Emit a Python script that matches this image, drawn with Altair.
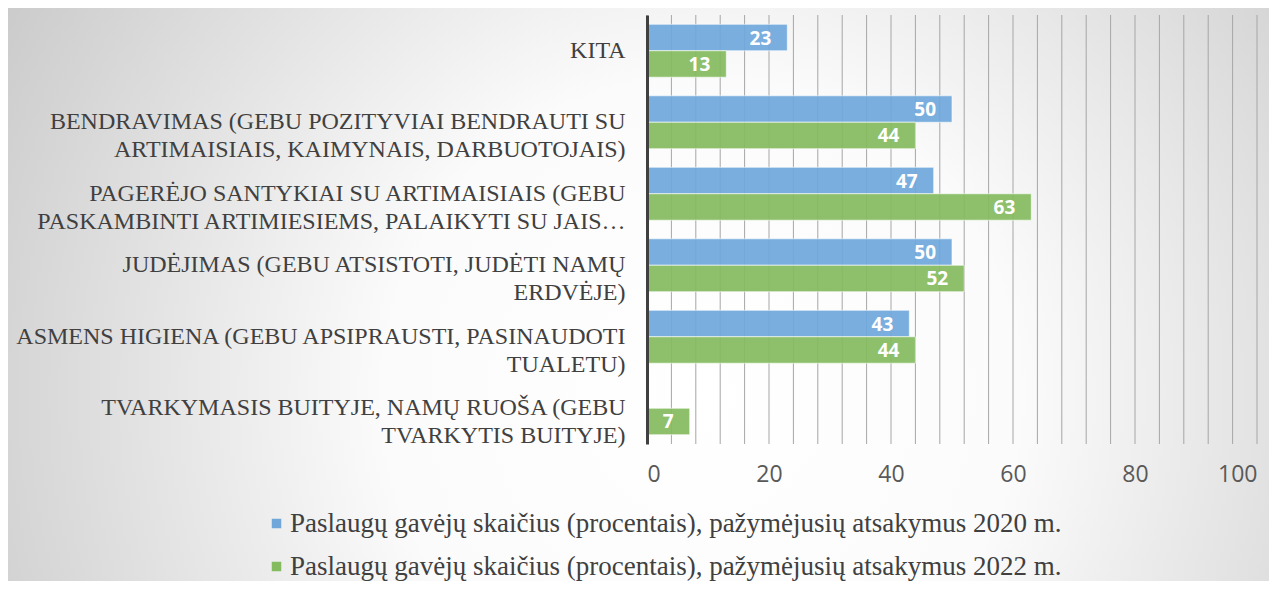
import altair as alt
import pandas as pd

categories = [
    "KITA",
    "BENDRAVIMAS (GEBU POZITYVIAI BENDRAUTI SU|ARTIMAISIAIS, KAIMYNAIS, DARBUOTOJAIS)",
    "PAGERĖJO SANTYKIAI SU ARTIMAISIAIS (GEBU|PASKAMBINTI ARTIMIESIEMS, PALAIKYTI SU JAIS…",
    "JUDĖJIMAS (GEBU ATSISTOTI, JUDĖTI NAMŲ|ERDVĖJE)",
    "ASMENS HIGIENA (GEBU APSIPRAUSTI, PASINAUDOTI|TUALETU)",
    "TVARKYMASIS BUITYJE, NAMŲ RUOŠA (GEBU|TVARKYTIS BUITYJE)",
]
series = [
    "Paslaugų gavėjų skaičius (procentais), pažymėjusių atsakymus 2020 m.",
    "Paslaugų gavėjų skaičius (procentais), pažymėjusių atsakymus 2022 m.",
]
values_2020 = [23, 50, 47, 50, 43, 0]
values_2022 = [13, 44, 63, 52, 44, 7]
grid_values = list(range(0, 101, 4))
tick_labels = [0, 20, 40, 60, 80, 100]
colors = ["#6fa7db", "#84bb5f"]

SERIF = "Liberation Serif, Times New Roman, Times, serif"

rows = []
for c, a, b in zip(categories, values_2020, values_2022):
    rows.append({"cat": c, "series": series[0], "value": a})
    rows.append({"cat": c, "series": series[1], "value": b})
df = pd.DataFrame(rows)
grid_df = pd.DataFrame({"g": grid_values})

W, H = 610, 429
PL, PT, PR, PB = 639, 7, 12, 137

xscale = alt.Scale(domain=[0, 100], nice=False)
yscale = alt.Scale(domain=categories, paddingInner=0.26, paddingOuter=0.13)

xaxis = alt.Axis(title=None, values=tick_labels, labelOverlap=False,
                 labelFont="Open Sans", labelFontSize=23,
                 labelColor="#595959", labelPadding=19,
                 ticks=False, domain=False, grid=False, zindex=1)

bg = alt.Chart(pd.DataFrame({"a": [0]})).mark_rect(
    color=alt.RadialGradient(
        gradient="radial",
        x1=0.55, y1=0.58, r1=0.0,
        x2=0.55, y2=0.58, r2=0.72,
        stops=[
            alt.GradientStop(offset=0.0, color="#ffffff"),
            alt.GradientStop(offset=0.35, color="#fbfbfb"),
            alt.GradientStop(offset=1.0, color="#c0c0c0"),
        ],
    )
).encode(
    x=alt.value(-PL), x2=alt.value(W + PR),
    y=alt.value(-PT), y2=alt.value(H + PB),
)

grid = alt.Chart(grid_df).mark_rule(color="#a6a6a6", strokeWidth=1).encode(
    x=alt.X("g:Q", scale=xscale, axis=xaxis),
    y=alt.value(0), y2=alt.value(H),
)

base = alt.Chart(df).encode(
    y=alt.Y("cat:N", sort=categories, scale=yscale,
            axis=alt.Axis(title=None, labelExpr="split(datum.value, '|')",
                          labelFont=SERIF, labelFontSize=24,
                          labelColor="#404040", labelLineHeight=28,
                          labelPadding=22, labelLimit=0, ticks=False,
                          domain=True, domainColor="#404040", domainWidth=3,
                          grid=False, zindex=1)),
    yOffset=alt.YOffset("series:N", sort=series),
)

bars = base.mark_bar(fillOpacity=0.92, stroke="#ffffff", strokeWidth=1,
                     strokeOpacity=0.6).encode(
    x=alt.X("value:Q", scale=xscale, axis=xaxis),
    color=alt.Color("series:N", sort=series,
                    scale=alt.Scale(domain=series, range=colors),
                    legend=alt.Legend(title=None, orient="none",
                                      legendX=-384, legendY=495,
                                      direction="vertical",
                                      symbolType="square", symbolSize=90,
                                      symbolStrokeWidth=0, symbolOpacity=1,
                                      labelFont=SERIF,
                                      labelFontSize=27, labelColor="#404040",
                                      labelLimit=0, rowPadding=15,
                                      labelOffset=0, zindex=1)),
)

labels = base.transform_filter("datum.value > 0").mark_text(
    align="right", baseline="middle", dx=-16, dy=1,
    font="Open Sans", fontWeight="bold", fontSize=19, color="#ffffff",
).encode(
    x=alt.X("value:Q", scale=xscale, axis=xaxis),
    text=alt.Text("value:Q"),
)

chart = alt.layer(bg, grid, bars, labels).properties(
    width=W, height=H,
    autosize=alt.AutoSizeParams(type="none"),
    padding={"left": PL, "top": PT, "right": PR, "bottom": PB},
).configure_view(stroke=None).configure(background="#ffffff")

chart.save("out.html", embed_options={"renderer": "svg", "actions": False})
